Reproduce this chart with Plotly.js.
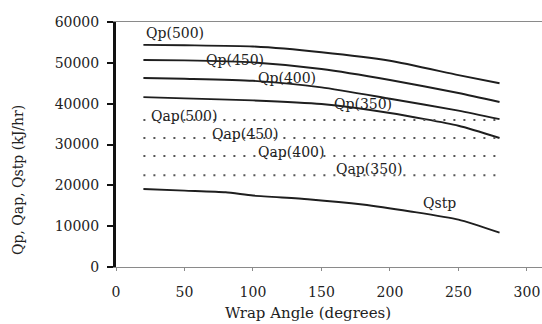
<!DOCTYPE html>
<html>
<head>
<meta charset="utf-8">
<script src="https://cdn.plot.ly/plotly-3.0.1.min.js"></script>
<style>html,body{margin:0;padding:0;background:#fff;}#chart{width:542px;height:324px;}</style>
</head>
<body>
<div id="chart"></div>
<script>
// Wrap angle (degrees)
const angleQp = [20, 50, 100, 150, 200, 250, 280];
const qp500 = [54400, 54300, 54000, 52600, 50500, 47000, 45000];
const qp450 = [50700, 50600, 50100, 48500, 45800, 42600, 40400];
const qp400 = [46300, 46100, 45600, 44000, 41200, 38300, 36200];
const qp350 = [41600, 41300, 40800, 39900, 37700, 34600, 31600];

const angleQap = [20, 280];
const qap500 = [36000, 36000];
const qap450 = [31600, 31600];
const qap400 = [27200, 27200];
const qap350 = [22500, 22500];

const angleQstp = [20, 50, 80, 100, 140, 180, 215, 250, 280];
const qstp = [19100, 18700, 18300, 17500, 16600, 15300, 13600, 11600, 8400];

const xTicks = [0, 50, 100, 150, 200, 250, 300];
const yTicks = [0, 10000, 20000, 30000, 40000, 50000, 60000];

const curveLabels = ["Qp(500)", "Qp(450)", "Qp(400)", "Qp(350)", "Qap(500)", "Qap(450)", "Qap(400)", "Qap(350)", "Qstp"];
const labelX = [43, 87, 125, 180, 50, 94, 128, 185, 236];
const labelY = [57300, 50800, 46400, 39800, 36900, 32500, 28100, 24100, 15600];

const solid = {color: '#1e1e1e', width: 1.9};
const dotted = {color: '#555', width: 2, dash: '2px,8px'};

const traces = [
  {x: angleQp, y: qp500, line: solid},
  {x: angleQp, y: qp450, line: solid},
  {x: angleQp, y: qp400, line: solid},
  {x: angleQp, y: qp350, line: solid},
  {x: angleQap, y: qap500, line: dotted},
  {x: angleQap, y: qap450, line: dotted},
  {x: angleQap, y: qap400, line: dotted},
  {x: angleQap, y: qap350, line: dotted},
  {x: angleQstp, y: qstp, line: solid}
].map(t => Object.assign({type: 'scatter', mode: 'lines', hoverinfo: 'skip'}, t, {line: Object.assign({shape: 'spline', smoothing: 0.6}, t.line)}));

const font = {family: '"DejaVu Serif", "Liberation Serif", serif', color: '#222'};

const L = 116, T = 22, W = 542, H = 324, B = 57, R = 0;
const pw = W - L - R, ph = H - T - B;

const annotations = curveLabels.map((t, i) => ({
  x: labelX[i], y: labelY[i], xref: 'x', yref: 'y', text: t, showarrow: false,
  font: Object.assign({}, font, {size: 14}), xanchor: 'center', yanchor: 'middle'
}));
annotations.push({
  x: (308 - L) / pw, y: -(313 - (H - B)) / ph, xref: 'paper', yref: 'paper', text: 'Wrap Angle (degrees)',
  showarrow: false, font: Object.assign({}, font, {size: 15}), xanchor: 'center', yanchor: 'middle'
});
annotations.push({
  x: (18 - L) / pw, y: (H - B - 180) / ph, xref: 'paper', yref: 'paper', text: 'Qp, Qap, Qstp (kJ/hr)', showarrow: false,
  textangle: -90, font: Object.assign({}, font, {size: 14}), xanchor: 'center', yanchor: 'middle'
});

const layout = {
  width: W, height: H,
  margin: {l: L, r: R, t: T, b: B, pad: 0},
  paper_bgcolor: '#fff', plot_bgcolor: '#fff',
  showlegend: false,
  font: font,
  xaxis: {
    range: [0, 311], tickvals: xTicks, ticktext: xTicks.map(String),
    showgrid: false, zeroline: false, showline: true, mirror: true,
    linecolor: '#8a8a8a', linewidth: 1.2,
    ticks: 'outside', ticklen: 3, tickcolor: '#8a8a8a', tickwidth: 1,
    ticklabelstandoff: 9,
    tickfont: Object.assign({}, font, {size: 14})
  },
  yaxis: {
    range: [0, 60000], tickvals: yTicks, ticktext: yTicks.map(String),
    showgrid: false, zeroline: false, showline: true,
    linecolor: '#111', linewidth: 3,
    ticks: 'outside', ticklen: 6, tickcolor: '#111', tickwidth: 2,
    ticklabelstandoff: 5,
    tickfont: Object.assign({}, font, {size: 14})
  },
  annotations: annotations
};

Plotly.newPlot('chart', traces, layout, {staticPlot: true, displayModeBar: false});
</script>
</body>
</html>
